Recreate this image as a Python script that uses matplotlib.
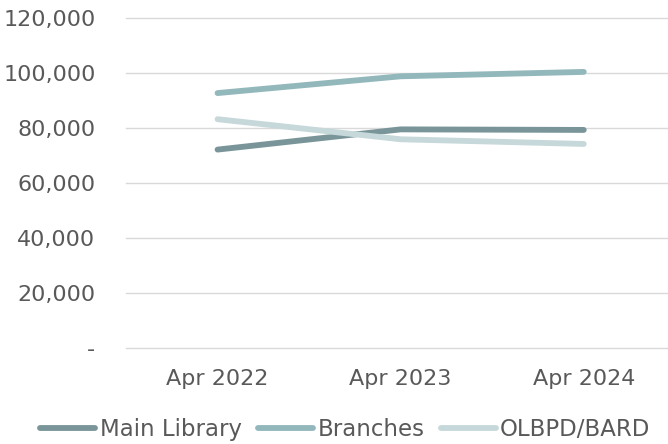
import matplotlib.pyplot as plt
from matplotlib.ticker import FuncFormatter

years = ['Apr 2022', 'Apr 2023', 'Apr 2024']
main_library = [72150, 79500, 79300]
branches = [92700, 98800, 100400]
olbpd_bard = [83200, 75900, 74200]

colors = ['#7a9599', '#93b8bc', '#c6d8da']
labels = ['Main Library', 'Branches', 'OLBPD/BARD']

plt.rcParams['font.family'] = ['DejaVu Sans']

fig = plt.figure(figsize=(6.68, 4.44), dpi=100)
ax = fig.add_axes([126 / 668, 96 / 444, 542 / 668, 330 / 444])

x = range(len(years))
for vals, c, lab in zip([main_library, branches, olbpd_bard], colors, labels):
    ax.plot(x, vals, color=c, lw=4.2, label=lab, solid_capstyle='round')

ax.set_xlim(-0.5, 2.46)
ax.set_ylim(0, 120000)
ax.set_yticks(range(0, 120001, 20000))
ax.yaxis.set_major_formatter(FuncFormatter(lambda v, p: '-' if v == 0 else f'{int(v):,}'))
ax.set_xticks(list(x))
ax.set_xticklabels(years)
ax.grid(axis='y', color='#d9d9d9', lw=1)
for gl in ax.get_ygridlines():
    gl.set_clip_on(False)
ax.set_axisbelow(True)
for s in ax.spines.values():
    s.set_visible(False)
ax.tick_params(axis='y', length=0, pad=22, labelsize=16, labelcolor='#595959')
ax.tick_params(axis='x', length=0, pad=15, labelsize=16, labelcolor='#595959')

fig.legend(loc='lower center', bbox_to_anchor=(0.517, -0.04), ncol=3, frameon=False,
           fontsize=16.5, labelcolor='#595959', handlelength=2.4, handletextpad=0.2,
           columnspacing=0.7)

fig.savefig('out.png', dpi=100)
